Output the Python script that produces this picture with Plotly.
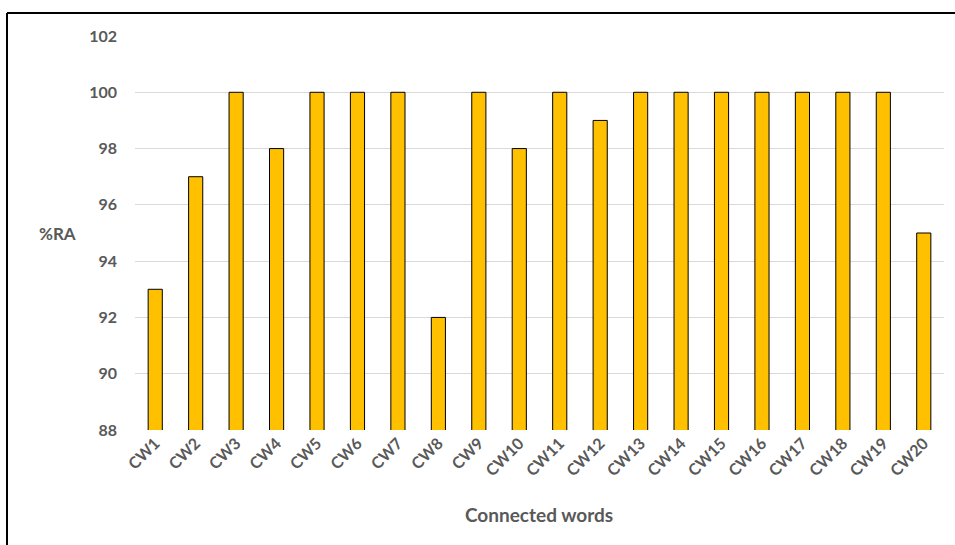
import plotly.graph_objects as go

categories = [f"CW{i}" for i in range(1, 21)]
ra_values = [93, 97, 100, 98, 100, 100, 100, 92, 100, 98,
             100, 99, 100, 100, 100, 100, 100, 100, 100, 95]
y_ticks = [88, 90, 92, 94, 96, 98, 100, 102]

FONT = "Lato"
GREY = "#595959"

fig = go.Figure(
    go.Bar(
        x=categories,
        y=ra_values,
        marker=dict(color="#FFC000", line=dict(color="#000000", width=1)),
        hoverinfo="x+y",
    )
)

# plot area in pixels: x 135..944, y 36..430
L, R, T, B = 135, 11, 36, 115
W, H = 955, 545
pw, ph = W - L - R, H - T - B

def px_x(x):
    return (x - L) / pw

def px_y(y):
    return (H - B - y) / ph

fig.update_layout(
    width=W,
    height=H,
    margin=dict(l=L, r=R, t=T, b=B, pad=0),
    paper_bgcolor="white",
    plot_bgcolor="white",
    bargap=0.65,
    showlegend=False,
    font=dict(family=FONT, color=GREY, size=16),
    xaxis=dict(
        type="category",
        tickangle=-45,
        tickfont=dict(family=FONT, size=16, color=GREY, weight="bold"),
        showgrid=False,
        showline=False,
        ticks="",
        ticklen=0,
    ),
    yaxis=dict(
        range=[88, 102],
        tickvals=y_ticks,
        tickfont=dict(family=FONT, size=16, color=GREY, weight="bold"),
        showgrid=True,
        gridcolor="#D9D9D9",
        gridwidth=1,
        zeroline=False,
        showline=False,
        ticks="",
        ticklabelstandoff=17,
    ),
    annotations=[
        dict(
            text="<b>%RA</b>",
            x=px_x(57), y=px_y(233),
            xref="paper", yref="paper",
            xanchor="center", yanchor="middle",
            showarrow=False,
            font=dict(family=FONT, size=17, color=GREY),
        ),
        dict(
            text="<b>Connected words</b>",
            x=px_x(539), y=px_y(514),
            xref="paper", yref="paper",
            xanchor="center", yanchor="middle",
            showarrow=False,
            font=dict(family=FONT, size=19, color=GREY),
        ),
    ],
    shapes=[
        # chart frame (top and left edges)
        dict(type="line", xref="paper", yref="paper",
             x0=px_x(7), x1=px_x(960), y0=px_y(13), y1=px_y(13),
             line=dict(color="black", width=2)),
        dict(type="line", xref="paper", yref="paper",
             x0=px_x(7), x1=px_x(7), y0=px_y(13), y1=px_y(560),
             line=dict(color="black", width=2)),
    ],
)

fig.write_html("out.html")
